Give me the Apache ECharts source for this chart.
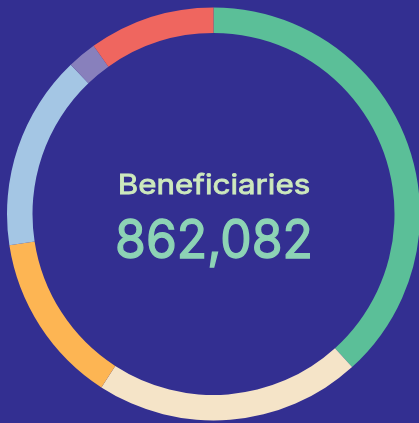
<!DOCTYPE html>
<html>
<head>
<meta charset="utf-8">
<script src="https://cdn.jsdelivr.net/npm/echarts@6/dist/echarts.min.js"></script>
<style>
html,body{margin:0;padding:0;background:#332f91;}
#c{width:419px;height:423px;}
</style>
</head>
<body>
<div id="c"></div>
<script>
var categories = ['Group 1', 'Group 2', 'Group 3', 'Group 4', 'Group 5', 'Group 6'];
var values = [330100, 179700, 115900, 131700, 19700, 85000];
var colors = ['#5bbf98', '#f5e4c8', '#fdb553', '#a4c6e4', '#8880bc', '#ef665f'];
var titleText = 'Beneficiaries';
var totalText = '862,082';

var chart = echarts.init(document.getElementById('c'), null, {renderer: 'canvas'});
chart.setOption({
  backgroundColor: '#332f91',
  animation: false,
  graphic: [
    {type: 'text', x: 214, y: 186, scaleX: 1.16, style: {text: titleText, fill: '#cde9bd', stroke: '#cde9bd', lineWidth: 0.8, font: '400 27px Inter', textAlign: 'center', textVerticalAlign: 'middle'}},
    {type: 'text', x: 214, y: 242, scaleX: 0.93, style: {text: totalText, fill: '#8dd3b5', stroke: '#8dd3b5', lineWidth: 1.4, font: '400 53.6px Inter', textAlign: 'center', textVerticalAlign: 'middle'}}
  ],
  series: [{
    type: 'pie',
    center: [213.5, 214],
    radius: [181, 206.5],
    startAngle: 90,
    clockwise: true,
    label: {show: false},
    labelLine: {show: false},
    emphasis: {disabled: true},
    itemStyle: {borderWidth: 0},
    data: categories.map(function (n, i) { return {name: n, value: values[i], itemStyle: {color: colors[i]}}; })
  }]
});
</script>
</body>
</html>
